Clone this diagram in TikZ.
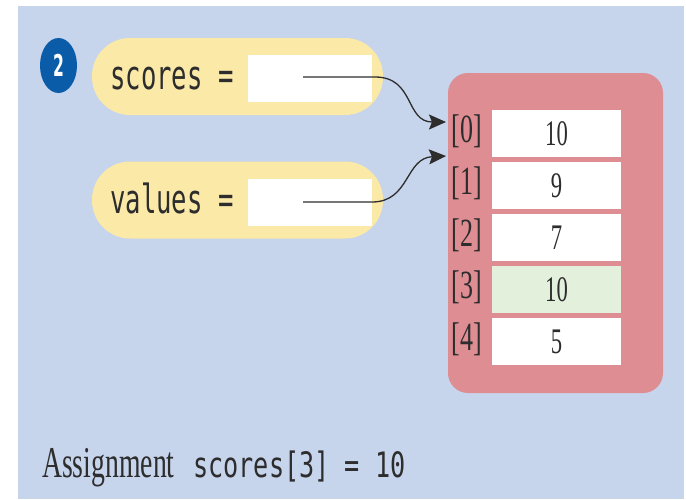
\documentclass[tikz,border=0pt]{standalone}
\usepackage{fontspec}
\setmonofont{DejaVu Sans Mono}
\setsansfont{DejaVu Sans}
\newfontfamily\bookserif{Liberation Serif}
\usepackage{graphicx}
\usetikzlibrary{arrows.meta,shapes.geometric,positioning}
\definecolor{bgblue}{RGB}{198,212,236}
\definecolor{pillyellow}{RGB}{251,233,168}
\definecolor{arrred}{RGB}{222,141,147}
\definecolor{cellgreen}{RGB}{227,240,220}
\definecolor{badgeblue}{RGB}{10,92,168}
\definecolor{ink}{RGB}{45,45,45}
\newcommand{\serif}[3]{\scalebox{#1}[1]{\fontsize{#2}{#2}\selectfont\bookserif #3}}
\newcommand{\mono}[3]{\scalebox{#1}[1]{\fontsize{#2}{#2}\selectfont\ttfamily #3}}
\tikzset{%
  pill/.style={fill=pillyellow, rounded corners=38pt, minimum width=291pt, minimum height=77pt, inner sep=0pt},
  refbox/.style={fill=white, minimum width=124pt, minimum height=47pt, inner sep=0pt},
  cell/.style={fill=white, minimum width=129pt, minimum height=47pt, inner sep=0pt, text=ink},
  index/.style={inner sep=0pt, text=ink, anchor=base},
  label text/.style={inner sep=0pt, text=ink, anchor=base west},
  badge/.style={ellipse, fill=badgeblue, minimum width=37pt, minimum height=55pt, inner sep=0pt, text=white},
  pointer/.style={draw=ink, line width=1.3pt, -{Stealth[length=17pt,width=15pt,inset=3pt]}}
}

\begin{document}
\begin{tikzpicture}[x=1pt, y=-1pt]

  \useasboundingbox (0,0) rectangle (686,499);
  \fill[white] (0,0) rectangle (686,499);
  \fill[bgblue] (18,6) rectangle (684,499);

  \node[badge] (badge) at (58.5,65.5) {\scalebox{0.52}[1]{\fontsize{30}{30}\selectfont\sffamily\bfseries 2}};

  \node[pill] (scorespill) at (237.5,76.5) {};
  \node[pill] (valuespill) at (237.5,200) {};
  \node[refbox] (scoresref) at (310,78.5) {};
  \node[refbox] (valuesref) at (310,202) {};
  \node[label text] (scoreslbl) at (110,89) {\mono{0.64}{40}{scores =}};
  \node[label text] (valueslbl) at (110,213) {\mono{0.64}{40}{values =}};

  \node[fill=arrred, rounded corners=20pt, minimum width=215pt, minimum height=320pt] (array) at (555.5,233) {};
  \foreach \v [count=\i from 0] in {10,9,7,10,5} {
    \node[cell] (c\i) at (556.5,133.5+52*\i) {\serif{0.63}{36}{\v}};
    \node[index] (i\i) at (467,142+52*\i) {\serif{0.65}{40}{[\i]}};
  }
  \node[cell, fill=cellgreen] at (c3) {\serif{0.63}{36}{10}};

  \coordinate (s1) at (303,77);
  \coordinate (s2) at (303,202);
  \coordinate (e1) at (446,122);
  \coordinate (e2) at (446,156);
  \draw[pointer] (s1) -- (375,77) .. controls (415,77) and (405,122) .. (e1);
  \draw[pointer] (s2) -- (372,202) .. controls (410,202) and (405,158) .. (e2);

  \node[label text] (caption) at (42,477) {\serif{0.63}{44}{Assignment}};
  \node[label text] (code) at (193,477) {\mono{0.72}{35}{scores[3] = 10}};
\end{tikzpicture}
\end{document}
